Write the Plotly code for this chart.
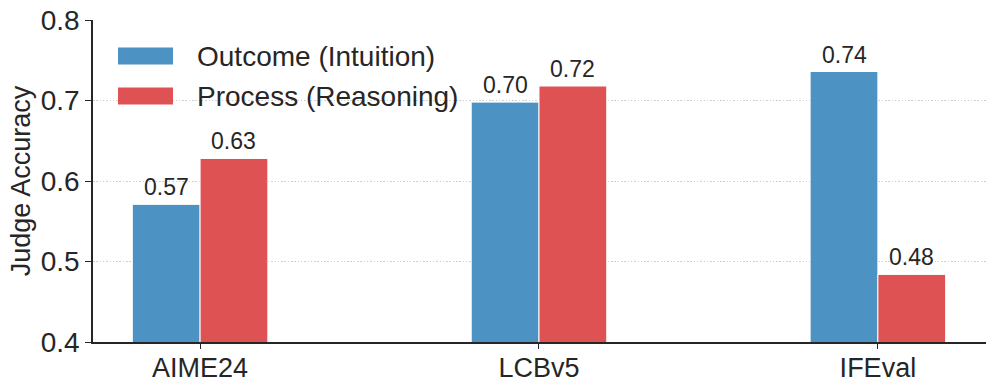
import numpy as np
import plotly.graph_objects as go

categories = ["AIME24", "LCBv5", "IFEval"]
outcome = [0.571, 0.698, 0.736]
process = [0.628, 0.718, 0.484]
series_names = ["Outcome (Intuition)", "Process (Reasoning)"]
y_ticks = [0.4, 0.5, 0.6, 0.7, 0.8]

BLUE = "rgb(76,146,195)"
RED = "rgb(222,82,84)"
DARK = "#262626"
FONT = "Liberation Sans, Arial, sans-serif"

x = np.arange(len(categories))
fig = go.Figure()
for name, vals, col in [(series_names[0], outcome, BLUE), (series_names[1], process, RED)]:
    fig.add_trace(go.Bar(
        x=x, y=vals, name=name, marker=dict(color=col, line=dict(color="white", width=1)),
        showlegend=False,
    ))

# value labels
for i in range(len(categories)):
    for off, vals in [(-0.1, outcome), (0.1, process)]:
        fig.add_annotation(x=x[i] + off, y=vals[i], xref="x", yref="y",
                           text=f"{vals[i]:.2f}", showarrow=False, yanchor="bottom",
                           yshift=2, font=dict(size=23, color=DARK, family=FONT))

# manual legend
leg = [(series_names[0], BLUE, 56), (series_names[1], RED, 96)]
for name, col, ypx in leg:
    # convert pixel coords to paper coords (plot area: x 93..986, y 20..342)
    y0 = 1 - (ypx - 8.5 - 20) / 322
    y1 = 1 - (ypx + 8.5 - 20) / 322
    fig.add_shape(type="rect", xref="paper", yref="paper",
                  x0=(118 - 93) / 893, x1=(173 - 93) / 893, y0=y1, y1=y0,
                  fillcolor=col, line=dict(width=0))
    fig.add_annotation(xref="paper", yref="paper", x=(195 - 93) / 893,
                       y=1 - (ypx - 20) / 322, text=name, showarrow=False,
                       xanchor="left", yanchor="middle",
                       font=dict(size=28, color=DARK, family=FONT))

fig.update_layout(
    width=996, height=390,
    margin=dict(l=93, r=10, t=20, b=48),
    paper_bgcolor="white", plot_bgcolor="white",
    barmode="group", bargap=0.6, bargroupgap=0,
    font=dict(family=FONT, color=DARK, size=27),
    xaxis=dict(
        range=[-0.316, 2.319], tickmode="array", tickvals=x, ticktext=categories,
        showline=True, linecolor=DARK, linewidth=1.5, ticks="outside", ticklen=5,
        tickwidth=1.2, tickcolor=DARK, showgrid=False, zeroline=False,
        tickfont=dict(size=27, color=DARK), automargin=False, ticklabelstandoff=-4,
    ),
    yaxis=dict(
        range=[0.4, 0.8], tickmode="array", tickvals=y_ticks,
        ticktext=[f"{v:.1f}" for v in y_ticks],
        showline=True, linecolor=DARK, linewidth=1.5, ticks="outside", ticklen=6,
        tickwidth=1.2, tickcolor=DARK, showgrid=True, gridcolor="#cfcfcf",
        griddash="1.5px,1.8px", gridwidth=1, zeroline=False,
        tickfont=dict(size=28, color=DARK), automargin=False,
        title=dict(text="Judge Accuracy", font=dict(size=27, color=DARK), standoff=2),
    ),
)

fig.write_html("out.html", config={"displayModeBar": False},
               post_script="document.body.style.margin='0';")
